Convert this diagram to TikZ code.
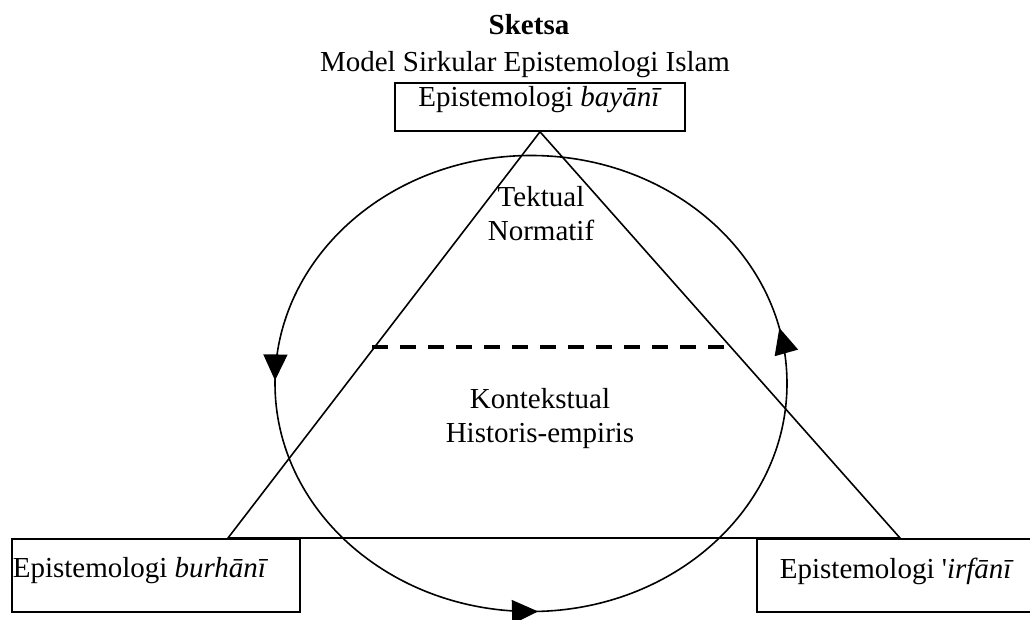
\documentclass[tikz,border=0pt]{standalone}
\usepackage{fontspec}
\setmainfont{Liberation Serif}
\usetikzlibrary{arrows.meta,decorations.markings}

\begin{document}
\begin{tikzpicture}[x=1pt, y=1pt, line width=1.6pt,
  every node/.style={font=\fontsize{29pt}{34pt}\selectfont},
  box/.style={draw, inner xsep=1pt, inner ysep=0pt},
  panah/.style={decoration={markings,
    mark=at position 0.037 with {\arrow{Triangle[length=26pt,width=24pt]}},
    mark=at position 0.498 with {\arrow{Triangle[length=26pt,width=24pt]}},
    mark=at position 0.7546 with {\arrow{Triangle[length=26pt,width=24pt]}}},
    postaction=decorate}]
  \useasboundingbox (0,0) rectangle (1030,619);
  \node[anchor=base, font=\fontsize{29pt}{34pt}\selectfont\bfseries] (sketsa) at (529,584) {Sketsa};
  \node[anchor=base] (judul) at (525,547) {Model Sirkular Epistemologi Islam};
  \node[box, minimum width=290pt, text height=24pt, text depth=24pt] (bayani) at (540,512) {Epistemologi \textit{bayānī}};
  \node[box, anchor=north west, text height=39pt, text depth=34pt] (burhani) at (11,81) {\makebox[286pt][l]{Epistemologi \textit{burhānī}}};
  \node[box, anchor=north west, minimum width=280pt, text height=40pt, text depth=33pt] (irfani) at (756,81) {Epistemologi \textquotesingle\textit{irfānī}};
  \coordinate (kiri) at (228,81);
  \coordinate (kanan) at (900,81);
  \draw (bayani.south) -- (kiri) -- (kanan) -- cycle;
  \coordinate (putus1) at (372,272);
  \coordinate (putus2) at (724,272);
  \draw[line width=4.5pt, dash pattern=on 16pt off 12pt] (putus1) -- (putus2);
  \draw[panah] (531,235.5) ellipse [x radius=256, y radius=228];
  \node[align=center] (tekstual) at (541,405) {Tektual\\Normatif};
  \node[align=center] (kontekstual) at (540,200) {Kontekstual\\Historis-empiris};
\end{tikzpicture}
\end{document}
